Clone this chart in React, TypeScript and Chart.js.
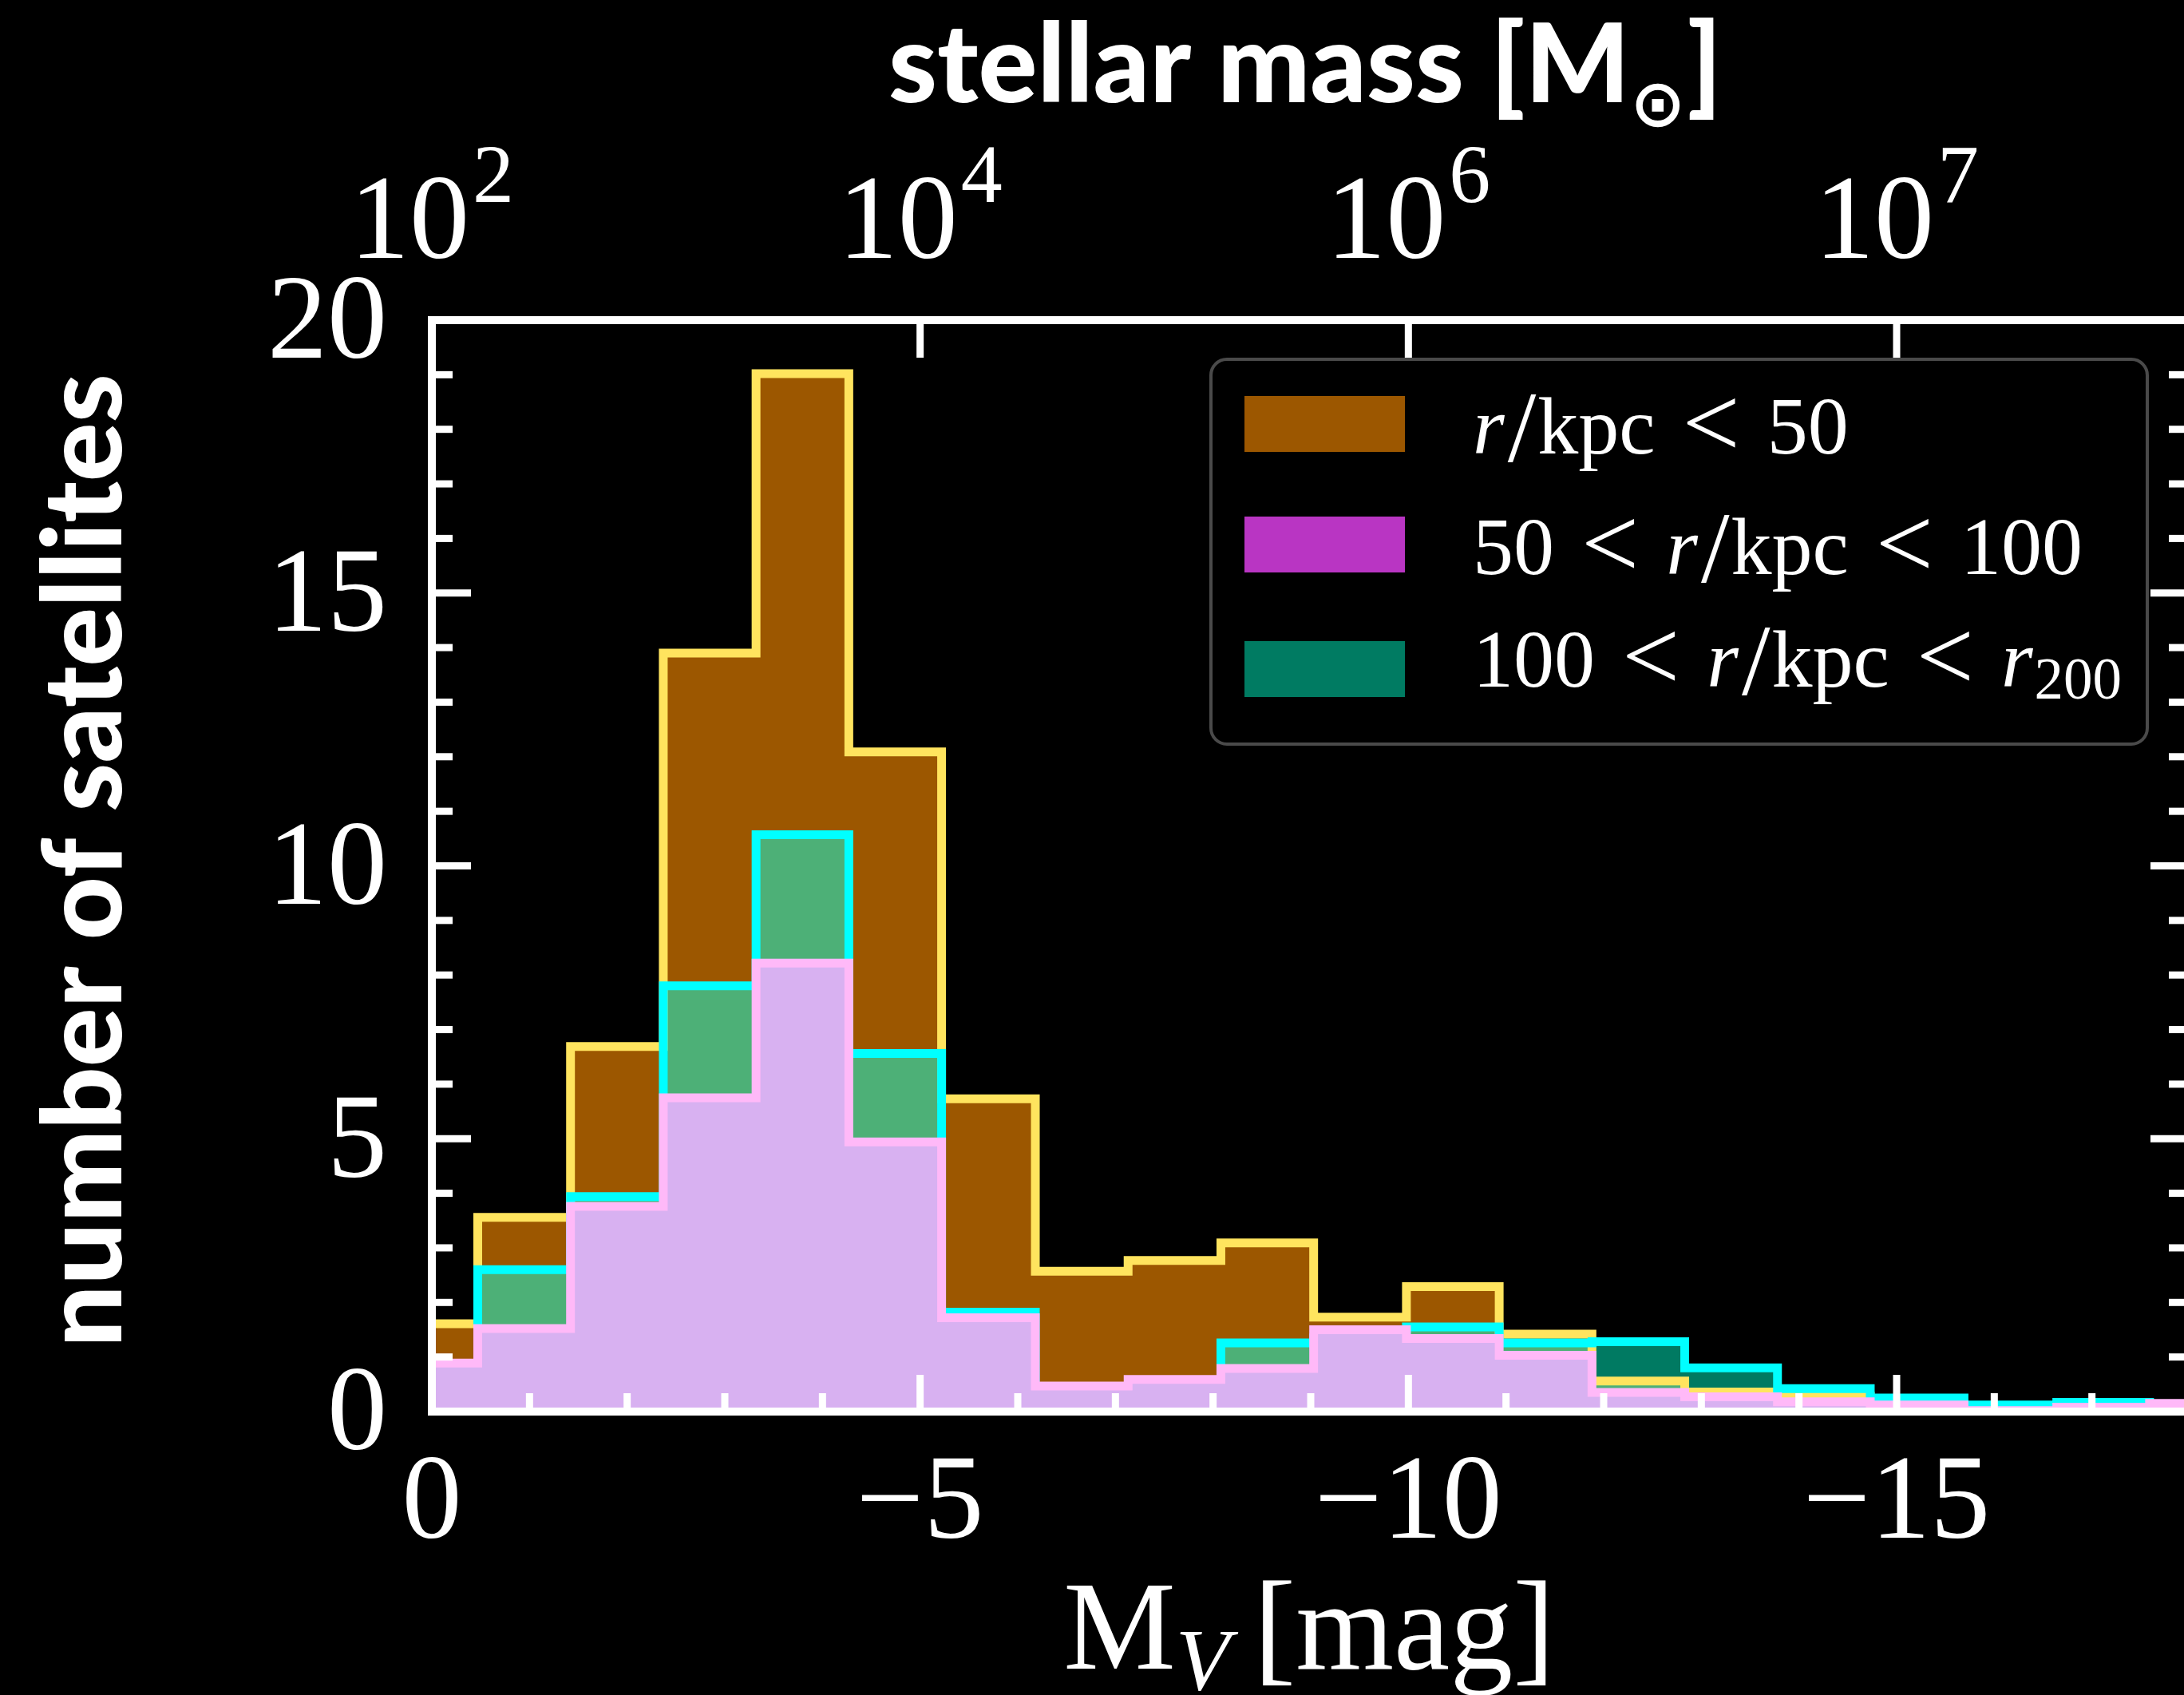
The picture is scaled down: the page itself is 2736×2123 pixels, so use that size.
import React, { useEffect, useRef } from 'react';
import { Chart, registerables } from 'chart.js';

Chart.register(...registerables);

// ---- data ----
// histogram bin edges in M_V [mag]
const binEdges = [0.48, -0.47, -1.42, -2.37, -3.32, -4.27, -5.22, -6.18, -7.13, -8.08, -9.03, -9.98, -10.93, -11.88, -12.83, -13.78, -14.73, -15.69, -16.64, -17.59, -18.54];
// outline heights per bin
const outerCounts = [1.61, 3.56, 6.69, 13.9, 19.02, 12.09, 5.73, 2.57, 2.77, 3.09, 1.73, 2.29, 1.42, 0.56, 0.36, 0.28, 0.1, 0.0, 0.04, 0.05];
const middleCounts = [0.75, 2.6, 3.94, 7.8, 10.57, 6.56, 1.82, 0.27, 0.33, 1.26, 1.35, 1.55, 1.26, 1.28, 0.8, 0.42, 0.25, 0.12, 0.17, 0.1];
const innerCounts = [0.89, 1.52, 3.76, 5.75, 8.22, 4.94, 1.72, 0.47, 0.59, 0.79, 1.5, 1.34, 1.03, 0.35, 0.27, 0.18, 0.12, 0.02, 0.08, 0.15];

const xTickValues = [-15, -10, -5, 0];
const xTickLabels = ['−15', '−10', '−5', '0'];
const topTickExponents = ['7', '6', '4', '2'];
const yTickValues = [0, 5, 10, 15, 20];

const legendLabels = ['r/kpc < 50', '50 < r/kpc < 100', '100 < r/kpc < r200'];
const legendColors = ['#9C5700', '#B935C3', '#007B62'];

// ---- styles ----
const BROWN = '#9C5700';
const YELLOW = '#FFE45E';
const CYAN = '#00FFFF';
const GREEN = '#4DB077';
const DARKTEAL = '#007A62';
const PINK = '#FFB9F8';
const LAVENDER = '#D8B1F1';

const SERIF = '"Liberation Serif", "DejaVu Serif", serif';
const SANS = 'Lato, "Open Sans", "DejaVu Sans", sans-serif';

const CANVAS_W = 2760;
const CANVAS_H = 2123;

function stepPoints(values: number[]) {
  const pts = values.map((v, i) => ({ x: binEdges[i], y: v }));
  pts.push({ x: binEdges[values.length], y: values[values.length - 1] });
  return pts;
}

type Run = { t: string; font: string; dy?: number; gapAfter?: number };

function drawRuns(ctx: CanvasRenderingContext2D, runs: Run[], x: number, y: number, align: 'left' | 'center') {
  let total = 0;
  for (const r of runs) {
    ctx.font = r.font;
    total += ctx.measureText(r.t).width + (r.gapAfter || 0);
  }
  let cx = align === 'center' ? x - total / 2 : x;
  ctx.textAlign = 'left';
  ctx.textBaseline = 'alphabetic';
  for (const r of runs) {
    ctx.font = r.font;
    ctx.fillText(r.t, cx, y + (r.dy || 0));
    cx += ctx.measureText(r.t).width + (r.gapAfter || 0);
  }
}

function legendRuns(label: string): Run[] {
  const size = 102;
  const rom = `${size}px ${SERIF}`;
  const rel = `${Math.round(size * 1.25)}px ${SERIF}`;
  const ita = `italic ${size}px ${SERIF}`;
  const sub = `${Math.round(size * 0.72)}px ${SERIF}`;
  const REL = 34;
  const runs: Run[] = [];
  const tokens = label.split(' ');
  tokens.forEach((tok, idx) => {
    const last = idx === tokens.length - 1;
    if (tok === '<') {
      runs.push({ t: '<', font: rel, dy: 4, gapAfter: REL });
      return;
    }
    const gap = last ? 0 : REL;
    if (tok === 'r/kpc') {
      runs.push({ t: 'r', font: ita, gapAfter: 4 });
      runs.push({ t: '/', font: rel, dy: 10, gapAfter: 2 });
      runs.push({ t: 'kpc', font: rom, gapAfter: gap });
    } else if (tok === 'r200') {
      runs.push({ t: 'r', font: ita, gapAfter: 2 });
      runs.push({ t: '200', font: sub, dy: 15, gapAfter: gap });
    } else {
      runs.push({ t: tok, font: rom, gapAfter: gap });
    }
  });
  return runs;
}

const decorPlugin = {
  id: 'decor',
  beforeDraw(chart: any) {
    const { ctx, width, height } = chart;
    ctx.save();
    ctx.fillStyle = '#000';
    ctx.fillRect(0, 0, width, height);
    ctx.restore();
  },
  afterDatasetsDraw(chart: any) {
    const { ctx, chartArea: a, scales } = chart;
    const xs = scales.x;
    const ys = scales.y;
    ctx.save();
    ctx.strokeStyle = '#FFFFFF';
    ctx.lineCap = 'butt';
    ctx.lineWidth = 9;
    const seg = (x1: number, y1: number, x2: number, y2: number) => {
      ctx.beginPath();
      ctx.moveTo(x1, y1);
      ctx.lineTo(x2, y2);
      ctx.stroke();
    };
    // bottom ticks (minor every 1 mag)
    for (let v = 0; v >= xs.min; v -= 1) {
      const px = xs.getPixelForValue(v);
      const major = v % 5 === 0;
      seg(px, a.bottom, px, a.bottom - (major ? 46 : 23));
    }
    // top ticks (major only)
    for (const v of xTickValues) {
      const px = xs.getPixelForValue(v);
      seg(px, a.top, px, a.top + 47);
    }
    // left / right ticks
    for (let v = 0; v <= ys.max; v += 1) {
      const py = ys.getPixelForValue(v);
      const major = v % 5 === 0;
      const len = major ? 49 : 26;
      seg(a.left, py, a.left + len, py);
      seg(a.right, py, a.right - len, py);
    }
    ctx.lineWidth = 10;
    ctx.lineJoin = 'miter';
    ctx.strokeRect(a.left, a.top, a.right - a.left, a.bottom - a.top);
    ctx.restore();
  },
  afterDraw(chart: any) {
    const { ctx, scales } = chart;
    const xs = scales.x;
    ctx.save();
    ctx.fillStyle = '#FFFFFF';

    // top axis labels: 10^n
    const big = `150px ${SERIF}`;
    const small = `104px ${SERIF}`;
    xTickValues.forEach((v, i) => {
      const px = xs.getPixelForValue(v);
      drawRuns(ctx, [
        { t: '10', font: big, gapAfter: 4 },
        { t: topTickExponents[i], font: small, dy: -70 },
      ], px, 323, 'center');
    });

    // top title
    const ts = 138;
    drawRuns(ctx, [
      { t: 'stellar mass [M', font: `900 ${ts}px ${SANS}` },
      { t: '⊙', font: `bold ${Math.round(ts * 0.6)}px "DejaVu Sans", sans-serif`, dy: 30, gapAfter: 2 },
      { t: ']', font: `900 ${ts}px ${SANS}` },
    ], 1635, 128, 'center');

    // x title
    const xsz = 158;
    drawRuns(ctx, [
      { t: 'M', font: `${xsz}px ${SERIF}` },
      { t: 'V', font: `italic ${Math.round(xsz * 0.7)}px ${SERIF}`, dy: 26, gapAfter: 30 },
      { t: '[mag]', font: `${xsz}px ${SERIF}` },
    ], 1640, 2090, 'center');

    // y title
    ctx.save();
    ctx.translate(152, 1078);
    ctx.rotate(-Math.PI / 2);
    ctx.font = `900 138px ${SANS}`;
    ctx.textAlign = 'center';
    ctx.textBaseline = 'alphabetic';
    ctx.fillText('number of satellites', 0, 0);
    ctx.restore();

    // legend
    const bx = 1517, by = 450, bw = 1173, bh = 482, rad = 20;
    ctx.beginPath();
    ctx.moveTo(bx + rad, by);
    ctx.arcTo(bx + bw, by, bx + bw, by + bh, rad);
    ctx.arcTo(bx + bw, by + bh, bx, by + bh, rad);
    ctx.arcTo(bx, by + bh, bx, by, rad);
    ctx.arcTo(bx, by, bx + bw, by, rad);
    ctx.closePath();
    ctx.fillStyle = '#000000';
    ctx.fill();
    ctx.lineWidth = 4;
    ctx.strokeStyle = '#4A4A4A';
    ctx.stroke();
    const swatchTops = [496, 647, 803];
    const baselines = [568, 719, 860];
    legendLabels.forEach((lab, i) => {
      ctx.fillStyle = legendColors[i];
      ctx.fillRect(1559, swatchTops[i], 201, 70);
      ctx.fillStyle = '#FFFFFF';
      drawRuns(ctx, legendRuns(lab), 1845, baselines[i], 'left');
    });
    ctx.restore();
  },
};

export default function App() {
  const ref = useRef<HTMLCanvasElement | null>(null);
  useEffect(() => {
    const canvas = ref.current;
    if (!canvas) return;
    const lineBase = {
      stepped: 'before' as const,
      pointRadius: 0,
      tension: 0,
      borderJoinStyle: 'miter' as const,
      borderCapStyle: 'butt' as const,
      clip: 0,
    };
    const chart = new Chart(canvas, {
      type: 'line',
      data: {
        datasets: [
          { ...lineBase, label: '50 < r/kpc < 100', data: stepPoints(innerCounts), borderColor: PINK, borderWidth: 11, backgroundColor: LAVENDER, fill: 'origin', order: 1 },
          { ...lineBase, label: 'middle outline', data: stepPoints(middleCounts), borderColor: CYAN, borderWidth: 11, backgroundColor: 'transparent', fill: false, order: 2 },
          { ...lineBase, label: 'outer outline', data: stepPoints(outerCounts), borderColor: YELLOW, borderWidth: 11, backgroundColor: 'transparent', fill: false, order: 3 },
          { ...lineBase, label: 'between', data: stepPoints(middleCounts), borderColor: 'transparent', borderWidth: 0, backgroundColor: BROWN, fill: { target: 4, above: DARKTEAL, below: BROWN }, order: 4 },
          { ...lineBase, label: 'base', data: stepPoints(outerCounts), borderColor: 'transparent', borderWidth: 0, backgroundColor: GREEN, fill: 'origin', order: 5 },
        ] as any,
      },
      options: {
        animation: false,
        responsive: false,
        devicePixelRatio: 1,
        events: [],
        layout: { padding: { left: 0, top: 0, right: CANVAS_W - 2743, bottom: 0 } },
        plugins: {
          legend: { display: false },
          tooltip: { enabled: false },
          title: { display: false },
        },
        scales: {
          x: {
            type: 'linear',
            axis: 'x',
            position: 'bottom',
            min: -18,
            max: 0,
            reverse: true,
            grid: { display: false, drawTicks: false, tickLength: 0 },
            border: { display: false },
            ticks: {
              color: '#FFFFFF',
              font: { family: SERIF, size: 150, lineHeight: 1.2 },
              padding: 29,
              maxRotation: 0,
              autoSkip: false,
              callback: (v: any) => xTickLabels[xTickValues.indexOf(Number(v))] ?? '',
            },
            afterBuildTicks: (s: any) => { s.ticks = xTickValues.map((v) => ({ value: v })); },
            afterFit: (s: any) => { s.height = CANVAS_H - 1768; },
          },
          x2: {
            type: 'linear',
            axis: 'x',
            position: 'top',
            min: -18,
            max: 0,
            reverse: true,
            grid: { display: false, drawTicks: false, tickLength: 0 },
            border: { display: false },
            ticks: { display: false },
            afterFit: (s: any) => { s.height = 401; },
          },
          y: {
            type: 'linear',
            position: 'left',
            min: 0,
            max: 20,
            grid: { display: false, drawTicks: false, tickLength: 0 },
            border: { display: false },
            ticks: {
              color: '#FFFFFF',
              font: { family: SERIF, size: 150, lineHeight: 1.2 },
              padding: 56,
              labelOffset: 8,
              autoSkip: false,
              callback: (v: any) => String(v),
            },
            afterBuildTicks: (s: any) => { s.ticks = yTickValues.map((v) => ({ value: v })); },
            afterFit: (s: any) => { s.width = 541; },
          },
        },
      } as any,
      plugins: [decorPlugin],
    });
    return () => chart.destroy();
  }, []);

  return (
    <div style={{ position: 'fixed', left: 0, top: 0, width: 2736, height: 2123, overflow: 'hidden', background: '#000' }}>
      <canvas ref={ref} width={CANVAS_W} height={CANVAS_H} style={{ width: CANVAS_W, height: CANVAS_H, display: 'block' }} />
    </div>
  );
}
